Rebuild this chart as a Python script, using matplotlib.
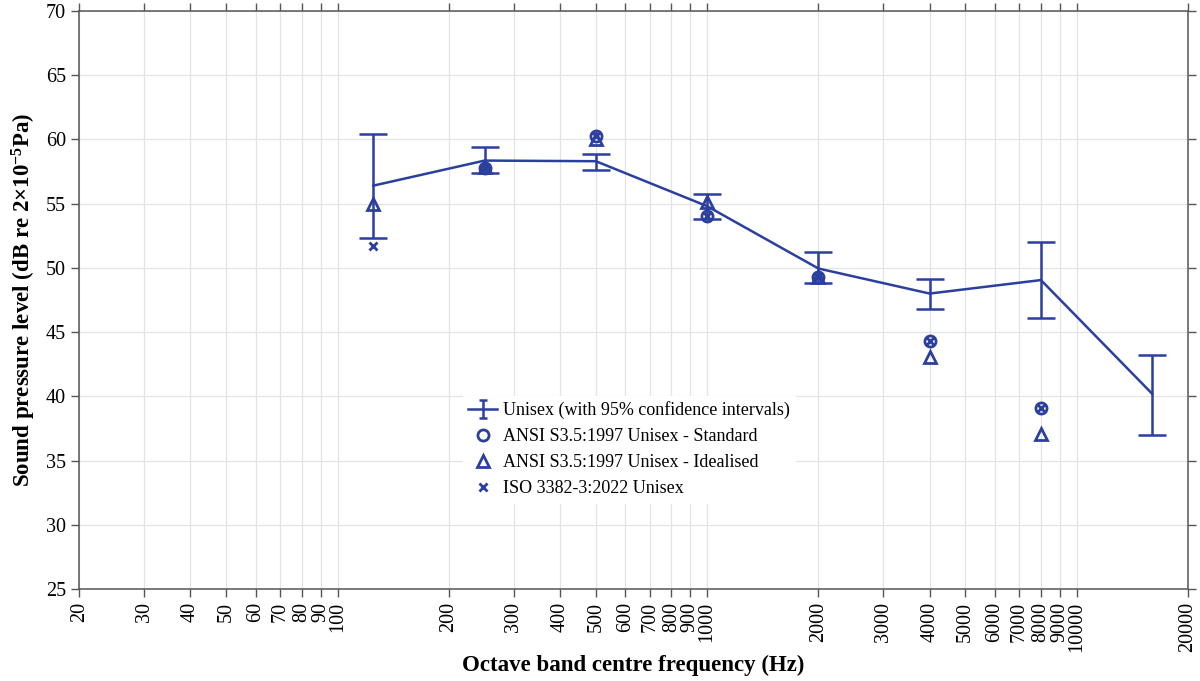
import matplotlib
matplotlib.use("Agg")
import matplotlib.pyplot as plt
import matplotlib.ticker as mticker
import numpy as np

plt.rcParams['font.family'] = ['Liberation Serif', 'DejaVu Serif']
plt.rcParams['mathtext.fontset'] = 'custom'
plt.rcParams['mathtext.rm'] = 'Liberation Serif'
plt.rcParams['mathtext.bf'] = 'Liberation Serif:bold'
plt.rcParams['mathtext.it'] = 'Liberation Serif:italic'

# measured unisex levels with 95% confidence limits
freqs = [125, 250, 500, 1000, 2000, 4000, 8000, 16000]
unisex = [56.4, 58.35, 58.3, 54.8, 49.95, 48.0, 49.05, 40.2]
ci_upper = [60.4, 59.4, 58.9, 55.75, 51.2, 49.1, 52.0, 43.2]
ci_lower = [52.3, 57.4, 57.6, 53.8, 48.8, 46.8, 46.1, 37.0]

# reference spectra
ansi_freqs = [250, 500, 1000, 2000, 4000, 8000]
ansi_standard = [57.8, 60.25, 54.0, 49.3, 44.3, 39.1]
ideal_freqs = [125, 250, 500, 1000, 2000, 4000, 8000]
ansi_idealised = [55.0, 57.85, 60.0, 55.1, 49.3, 43.1, 37.1]
iso_freqs = [125, 250, 500, 1000, 2000, 4000, 8000]
iso_unisex = [51.7, 57.8, 60.25, 54.0, 49.3, 44.3, 39.1]

xticks = [20, 30, 40, 50, 60, 70, 80, 90, 100, 200, 300, 400, 500, 600, 700,
          800, 900, 1000, 2000, 3000, 4000, 5000, 6000, 7000, 8000, 9000,
          10000, 20000]

col = "#2b3f9e"

fig = plt.figure(figsize=(12, 6.81), dpi=100)
ax = fig.add_axes([0.066, 0.135, 0.924, 0.849])

yerr = [np.array(unisex) - np.array(ci_lower), np.array(ci_upper) - np.array(unisex)]
ax.errorbar(freqs, unisex, yerr=yerr, color=col, linewidth=1.8, elinewidth=1.8,
            capsize=10, capthick=1.8, zorder=3)
# small-cap copy only for the legend entry
h_err = ax.errorbar([np.nan], [np.nan], yerr=[1], color=col, linewidth=1.8,
                    elinewidth=1.8, capsize=3, capthick=1.8)
h_std, = ax.plot(ansi_freqs, ansi_standard, linestyle="none", marker="o", markersize=8,
                 markerfacecolor="none", markeredgecolor=col, markeredgewidth=2, zorder=4)
h_ide, = ax.plot(ideal_freqs, ansi_idealised, linestyle="none", marker="^", markersize=9,
                 markerfacecolor="none", markeredgecolor=col, markeredgewidth=2, zorder=4)
h_iso, = ax.plot(iso_freqs, iso_unisex, linestyle="none", marker="x", markersize=6,
                 markeredgecolor=col, markeredgewidth=2, zorder=4)

ax.set_xscale("log")
ax.set_xlim(20, 20000)
ax.set_ylim(25, 70)
ax.xaxis.set_major_locator(mticker.FixedLocator(xticks))
ax.xaxis.set_minor_locator(mticker.NullLocator())
ax.xaxis.set_major_formatter(mticker.FixedFormatter([str(t) for t in xticks]))
ax.set_yticks(np.arange(25, 71, 5))
ax.tick_params(axis="x", labelrotation=90)
ax.tick_params(direction="out", length=6, width=1, color="#555555",
               labelsize=14.5, top=True, right=True)
ax.grid(True, color="#e3e3e3", linewidth=0.9)
ax.set_axisbelow(True)
for s in ax.spines.values():
    s.set_color("#555555")
    s.set_linewidth(1.1)

ax.set_xlabel("Octave band centre frequency (Hz)", fontsize=16.5, fontweight="bold")
ax.xaxis.set_label_coords(0.5, -0.113)
ax.set_ylabel(r"Sound pressure level (dB re 2$\mathbf{\times}$10$^{\mathbf{-5}}$Pa)",
              fontsize=16.5, fontweight="bold", labelpad=6)

ax.legend([h_err, h_std, h_ide, h_iso],
          ["Unisex (with 95% confidence intervals)", "ANSI S3.5:1997 Unisex - Standard",
           "ANSI S3.5:1997 Unisex - Idealised", "ISO 3382-3:2022 Unisex"],
          loc="upper left", bbox_to_anchor=(0.338, 0.35), frameon=True,
          fancybox=False, edgecolor="white", framealpha=1, fontsize=13,
          handlelength=1.6, handletextpad=0.3, borderpad=0.3, labelspacing=0.5)

fig.savefig("out.png", dpi=100)
